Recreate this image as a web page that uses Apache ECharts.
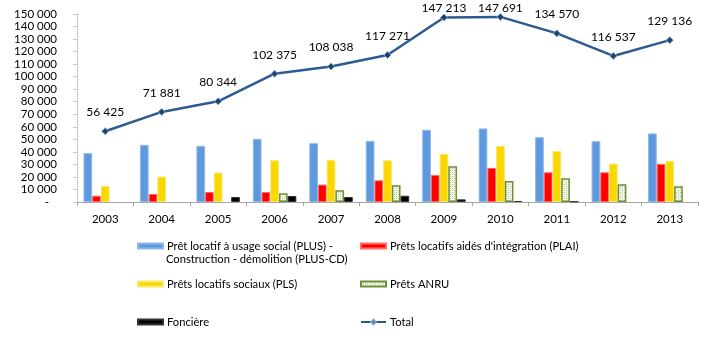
<!DOCTYPE html>
<html>
<head>
<meta charset="utf-8">
<script src="https://cdn.jsdelivr.net/npm/echarts@6/dist/echarts.min.js"></script>
<style>
  html, body { margin: 0; padding: 0; background: #fff; }
  #chart { width: 714px; height: 340px; }
</style>
</head>
<body>
<div id="chart"></div>
<script>
// Financements du logement social par type de prêt, 2003-2013
const years = ['2003', '2004', '2005', '2006', '2007', '2008', '2009', '2010', '2011', '2012', '2013'];
const plus = [39000, 45600, 44800, 50400, 46900, 48800, 57600, 58700, 51700, 48500, 54700];
const plai = [5000, 6400, 8000, 8000, 13900, 17300, 21600, 27200, 23700, 23700, 30400];
const pls = [12800, 20300, 23500, 33300, 33600, 33300, 38400, 44800, 40800, 30700, 32800];
const anru = [null, null, null, 7000, 9300, 13300, 28500, 16800, 18900, 14100, 12500];
const fonciere = [null, null, 4000, 4800, 4000, 5000, 2100, 800, 500, null, null];
const total = [56425, 71881, 80344, 102375, 108038, 117271, 147213, 147691, 134570, 116537, 129136];

const seriesNames = [
  'Prêt locatif à usage social (PLUS) - Construction - démolition (PLUS-CD)',
  'Prêts locatifs aidés d\'intégration (PLAI)',
  'Prêts locatifs sociaux (PLS)',
  'Prêts ANRU',
  'Foncière',
  'Total'
];

const FONT = 'Lato, "Liberation Sans", sans-serif';
const LEGEND_SIZE = 11.2;

// "150 000" style thousands grouping
function fmt(v) {
  return String(Math.round(v)).replace(/\B(?=(\d{3})+(?!\d))/g, ' ');
}

// dotted green fill for the ANRU bars
function dotPattern() {
  const c = document.createElement('canvas');
  c.width = 4; c.height = 4;
  const g = c.getContext('2d');
  g.fillStyle = '#F4F8EE';
  g.fillRect(0, 0, 4, 4);
  g.fillStyle = '#A9C47F';
  g.fillRect(0, 0, 1, 1);
  g.fillRect(2, 2, 1, 1);
  g.fillStyle = '#D3E2BD';
  g.fillRect(2, 0, 1, 1);
  g.fillRect(0, 2, 1, 1);
  return c;
}

const chart = echarts.init(document.getElementById('chart'), null, { renderer: 'canvas' });

function bar(name, data, color, border, bw) {
  return {
    name: name,
    type: 'bar',
    data: data,
    barGap: '0%',
    barCategoryGap: '23%',
    itemStyle: { color: color, borderColor: border, borderWidth: bw },
    emphasis: { disabled: true }
  };
}

function legendItem(name, left, top, extra) {
  return Object.assign({
    data: [name],
    left: left,
    top: top,
    padding: 0,
    itemWidth: 25,
    itemHeight: 5,
    itemGap: 0,
    selectedMode: false,
    icon: 'rect',
    textStyle: { fontFamily: FONT, fontSize: LEGEND_SIZE, color: '#000', lineHeight: 14, padding: [0, 0, 0, -1] }
  }, extra || {});
}

const option = {
  animation: false,
  backgroundColor: '#fff',
  grid: { left: 77, right: 16, top: 14, bottom: 138, containLabel: false },
  xAxis: {
    type: 'category',
    data: years,
    boundaryGap: true,
    axisLine: { lineStyle: { color: '#A6A6A6', width: 1 } },
    axisTick: { show: true, length: 4, lineStyle: { color: '#A6A6A6' } },
    axisLabel: { fontFamily: FONT, fontSize: 11.5, color: '#000', margin: 11 }
  },
  yAxis: {
    type: 'value',
    min: 0,
    max: 150000,
    interval: 10000,
    splitLine: { show: false },
    axisLine: { show: true, lineStyle: { color: '#C8C8C8', width: 1 } },
    axisTick: { show: true, length: 4, lineStyle: { color: '#C8C8C8' } },
    axisLabel: {
      fontFamily: FONT, fontSize: 11.5, color: '#000', margin: 20,
      formatter: v => (v === 0 ? '{z|-}' : fmt(v)),
      rich: { z: { fontFamily: FONT, fontSize: 11.5, color: '#000', padding: [0, 8, 0, 0] } }
    }
  },
  legend: [
    legendItem(seriesNames[0], 137, 239, {
      formatter: () => 'Prêt locatif à usage social (PLUS) -'
    }),
    legendItem(seriesNames[1], 360, 239),
    legendItem(seriesNames[2], 137, 277),
    legendItem(seriesNames[3], 360, 277),
    legendItem(seriesNames[4], 137, 315),
    legendItem(seriesNames[5], 360, 315, { icon: null, itemHeight: 6 })
  ],
  graphic: [{
    type: 'text',
    left: 166,
    top: 252.5,
    style: {
      text: 'Construction - démolition (PLUS-CD)',
      fontFamily: FONT, fontSize: LEGEND_SIZE, fill: '#000', lineHeight: 14
    }
  }],
  series: [
    bar(seriesNames[0], plus, '#5F99DD', '#8EB8EA', 1),
    bar(seriesNames[1], plai, '#FF0000', '#FF6A6A', 1),
    bar(seriesNames[2], pls, '#F9D800', '#FBE56A', 1),
    bar(seriesNames[3], anru, { image: dotPattern(), repeat: 'repeat' }, '#6E8F35', 1.5),
    bar(seriesNames[4], fonciere, '#000000', '#333333', 1),
    {
      name: seriesNames[5],
      type: 'line',
      data: total,
      symbol: 'diamond',
      symbolSize: 7,
      z: 5,
      lineStyle: { color: '#2C5B92', width: 2.5 },
      itemStyle: { color: '#1E4268', borderColor: '#7FA6CF', borderWidth: 1 },
      emphasis: { disabled: true },
      label: {
        show: true,
        position: 'top',
        distance: 9,
        fontFamily: FONT,
        fontSize: 12,
        color: '#000',
        formatter: p => fmt(p.value)
      }
    }
  ]
};

chart.setOption(option);

// keep the total labels inside the canvas near the top edge
const labelBox = 14;
const minTop = 4;
const lineData = total.map((v, i) => {
  const y = chart.convertToPixel({ seriesIndex: 5 }, [i, v])[1];
  const d = Math.min(9, y - labelBox - minTop);
  return { value: v, label: { distance: d } };
});
chart.setOption({ series: [{}, {}, {}, {}, {}, { data: lineData }] });
</script>
</body>
</html>
